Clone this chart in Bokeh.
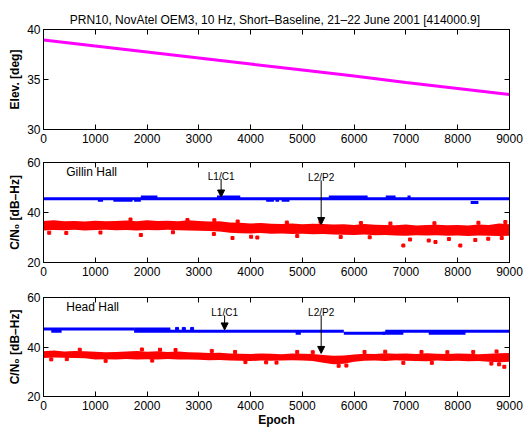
from bokeh.plotting import figure
from bokeh.layouts import column
from bokeh.models import (LinearAxis, FixedTicker, Range1d, Arrow, NormalHead, Label,
                          CustomJSTickFormatter)
from bokeh.embed import file_html
from bokeh.resources import INLINE

FONT = "Liberation Sans"

# ---- elevation of PRN10 (deg) ----
elev_epoch = [0, 1000, 2000, 3000, 4000, 5000, 6000, 7000, 8000, 9000]
elev_deg = [38.95, 38.35, 37.75, 37.15, 36.55, 35.95, 35.35, 34.7, 34.1, 33.5]

# ---- C/N0 red band envelopes (L2/P2), every 200 epochs ----
band_epoch = list(range(0, 9001, 200))
gillin_l2_hi = [36.6, 36.9, 36.5, 36.6, 36.4, 36.7, 36.5, 36.6, 36.8, 36.5,
                36.9, 36.6, 36.7, 36.5, 36.9, 36.6, 36.4, 36.5, 36.0, 35.9,
                35.6, 35.8, 35.5, 35.4, 35.6, 35.3, 35.5, 35.4, 35.2, 35.3,
                35.0, 35.4, 35.1, 35.0, 34.9, 35.2, 34.8, 35.0, 35.1, 34.9,
                35.0, 34.8, 35.2, 35.0, 35.6, 35.3]
gillin_l2_lo = [32.8, 33.0, 32.9, 33.1, 32.8, 33.0, 33.1, 32.9, 33.0, 32.8,
                33.0, 32.9, 33.1, 32.9, 32.8, 32.7, 32.6, 32.4, 31.9, 31.7,
                31.6, 31.8, 31.5, 31.6, 31.4, 31.5, 31.3, 31.4, 31.2, 31.1,
                31.0, 31.2, 30.9, 31.0, 30.8, 30.7, 30.9, 30.8, 30.9, 30.7,
                30.8, 30.6, 30.8, 30.7, 30.6, 30.7]
head_l2_hi = [38.3, 38.6, 38.2, 38.4, 38.3, 38.1, 37.9, 38.0, 38.2, 38.4,
              38.1, 38.3, 38.0, 38.2, 37.9, 37.8, 37.6, 37.7, 37.4, 37.3,
              37.2, 37.4, 37.3, 37.1, 37.4, 37.3, 37.2, 36.8, 36.5, 36.6,
              37.0, 37.3, 37.2, 37.5, 37.3, 37.4, 37.2, 37.5, 37.3, 37.2,
              37.4, 37.3, 37.1, 37.3, 37.5, 37.6]
head_l2_lo = [35.6, 35.8, 35.7, 35.6, 35.5, 35.0, 35.1, 35.0, 35.2, 35.0,
              35.1, 35.0, 35.2, 35.0, 34.9, 34.8, 34.6, 34.7, 34.5, 34.4,
              34.3, 34.5, 34.4, 34.5, 34.6, 34.5, 34.3, 33.6, 33.0, 33.2,
              34.0, 34.4, 34.5, 34.3, 34.6, 34.4, 34.3, 34.2, 34.5, 34.3,
              34.4, 34.2, 34.3, 34.0, 33.8, 34.0]

# ---- isolated L2/P2 samples outside the dense band ----
gillin_l2_out_epoch = [1680, 2780, 3300, 3750, 4700, 5350, 6130, 6700, 7550, 8400, 8920,
                       110, 440, 1100, 1880, 2500, 3290, 3650, 4010, 4130, 4900, 5740,
                       6300, 6950, 7080, 7440, 7570, 7830, 8050, 8340, 8590, 8850]
gillin_l2_out_val = [37.2, 37.0, 36.9, 36.4, 36.0, 36.3, 35.8, 35.6, 35.7, 35.9, 36.2,
                     31.9, 31.8, 32.0, 31.0, 32.1, 31.4, 29.8, 30.3, 30.0, 30.6, 30.2,
                     30.1, 26.8, 29.2, 28.8, 28.2, 29.4, 26.8, 29.0, 29.5, 29.8]
head_l2_out_epoch = [700, 1900, 2250, 2550, 3250, 3700, 4900, 5200, 6200, 6600, 7300, 7800,
                     8300, 8750, 150, 450, 1200, 2100, 3900, 4300, 4500, 5700, 5850, 6950,
                     7500, 8650, 8800, 8900]
head_l2_out_val = [38.9, 39.0, 38.9, 38.8, 38.4, 38.0, 38.0, 37.9, 38.0, 38.1, 38.0, 37.9,
                   38.0, 38.2, 35.0, 35.1, 34.4, 34.5, 33.9, 33.8, 33.7, 32.4, 32.5, 33.6,
                   33.6, 33.3, 33.0, 32.0]

# ---- L1/C1 C/N0 runs: start epoch, end epoch, level (dB-Hz) ----
gillin_l1_start = [0, 1050, 1350, 1750, 1880, 3350, 4300, 4480, 4600, 5510, 6610, 7030, 8250]
gillin_l1_end = [9000, 1150, 1720, 1880, 2200, 3800, 4450, 4550, 4750, 6260, 6800, 7090, 8400]
gillin_l1_level = [45.5, 44.9, 44.9, 44.9, 46.2, 46.2, 44.9, 44.9, 44.9, 46.2, 46.2, 46.2, 44.0]
head_l1_start = [0, 1750, 5800, 6600, 150, 1750, 4870, 6550, 7440]
head_l1_end = [1750, 5800, 6600, 9000, 350, 2450, 4970, 6950, 8150]
head_l1_level = [47.3, 46.4, 45.6, 46.4, 46.4, 47.3, 45.6, 45.6, 45.6]
head_l1_dot_epoch = [2580, 2710, 2870]
head_l1_dot_val = [47.3, 47.3, 47.3]

x_ticks = list(range(0, 9001, 1000))


def style_axis(ax, ticks, show_labels=True):
    ax.ticker = FixedTicker(ticks=ticks)
    ax.major_tick_in = 5
    ax.major_tick_out = 0
    ax.minor_tick_in = 0
    ax.minor_tick_out = 0
    ax.axis_line_color = "black"
    ax.major_tick_line_color = "black"
    ax.major_label_text_font = FONT
    ax.major_label_text_color = "black"
    ax.major_label_text_font_size = "12px"
    if not show_labels:
        # mirror axis: tick marks only
        ax.formatter = CustomJSTickFormatter(code="return ''")
        ax.major_label_standoff = 0
    ax.axis_label_text_font = FONT
    ax.axis_label_text_font_size = "12px"
    ax.axis_label_text_font_style = "bold"
    ax.axis_label_text_color = "black"


def make_panel(height, top, bottom, yr, yticks, ylabel, xlabel=None):
    p = figure(width=523, height=height, x_range=Range1d(0, 9000), y_range=Range1d(*yr),
               output_backend="svg", toolbar_location=None,
               min_border_left=43, min_border_right=14,
               min_border_top=top, min_border_bottom=bottom)
    p.xgrid.visible = False
    p.ygrid.visible = False
    p.outline_line_color = "black"
    p.outline_line_alpha = 1.0
    p.background_fill_color = "white"
    p.border_fill_color = "white"
    style_axis(p.xaxis[0], x_ticks)
    p.xaxis[0].major_label_standoff = 4
    style_axis(p.yaxis[0], yticks)
    p.yaxis[0].major_label_standoff = 3
    p.yaxis[0].axis_label = ylabel
    p.yaxis[0].axis_label_standoff = 2
    if xlabel:
        p.xaxis[0].axis_label = xlabel
        p.xaxis[0].axis_label_standoff = 0
    right = LinearAxis()
    style_axis(right, yticks, show_labels=False)
    p.add_layout(right, "right")
    top_ax = LinearAxis()
    style_axis(top_ax, x_ticks, show_labels=False)
    p.add_layout(top_ax, "above")
    return p


def add_arrow(p, x, y_text, y_from, y_to, text):
    p.add_layout(Arrow(end=NormalHead(size=7, fill_color="black", line_color="black", line_width=1),
                       x_start=x, y_start=y_from, x_end=x, y_end=y_to,
                       line_color="black", line_width=1))
    p.add_layout(Label(x=x, y=y_text, text=text, text_align="center",
                       text_baseline="alphabetic", text_font=FONT,
                       text_font_size="10px", text_color="black"))


# ---- panel 1: elevation ----
p1 = make_panel(149, 29, 20, (30, 40), [30, 35, 40], "Elev. [deg]")
p1.title.text = "PRN10, NovAtel OEM3, 10 Hz, Short\u2013Baseline, 21\u201322 June  2001 [414000.9]"
p1.title.align = "center"
p1.title.text_font = FONT
p1.title.text_font_size = "12px"
p1.title.text_font_style = "normal"
p1.title.text_color = "black"
p1.title.standoff = 6
p1.line(elev_epoch, elev_deg, line_color="#FF00FF", line_width=3)

# ---- panel 2: Gillin Hall ----
p2 = make_panel(133, 13, 20, (20, 60), [20, 40, 60], "C/N\u2080 [dB\u2013Hz]")
p2.varea(x=band_epoch, y1=gillin_l2_lo, y2=gillin_l2_hi, fill_color="#FF0000")
p2.scatter(gillin_l2_out_epoch, gillin_l2_out_val, marker="square", size=3,
           fill_color="#FF0000", line_color="#FF0000")
p2.segment(x0=gillin_l1_start, x1=gillin_l1_end, y0=gillin_l1_level, y1=gillin_l1_level,
           line_color="#0000FF", line_width=3)
p2.add_layout(Label(x=440, y=53.3, text="Gillin Hall", text_font=FONT,
                    text_font_size="12px", text_color="black"))
add_arrow(p2, 3430, 54.6, 53.4, 46.2, "L1/C1")
add_arrow(p2, 5363, 54.0, 52.8, 35.2, "L2/P2")

# ---- panel 3: Head Hall ----
p3 = make_panel(147, 15, 32, (20, 60), [20, 40, 60], "C/N\u2080 [dB\u2013Hz]", xlabel="Epoch")
p3.varea(x=band_epoch, y1=head_l2_lo, y2=head_l2_hi, fill_color="#FF0000")
p3.scatter(head_l2_out_epoch, head_l2_out_val, marker="square", size=3,
           fill_color="#FF0000", line_color="#FF0000")
p3.segment(x0=head_l1_start, x1=head_l1_end, y0=head_l1_level, y1=head_l1_level,
           line_color="#0000FF", line_width=3)
p3.scatter(head_l1_dot_epoch, head_l1_dot_val, marker="square", size=3,
           fill_color="#0000FF", line_color="#0000FF")
p3.add_layout(Label(x=440, y=53.3, text="Head Hall", text_font=FONT,
                    text_font_size="12px", text_color="black"))
add_arrow(p3, 3498, 54.0, 52.8, 46.9, "L1/C1")
add_arrow(p3, 5363, 54.0, 52.8, 37.4, "L2/P2")

layout = column(p1, p2, p3, spacing=0)
open("out.html", "w").write(file_html(layout, INLINE))
